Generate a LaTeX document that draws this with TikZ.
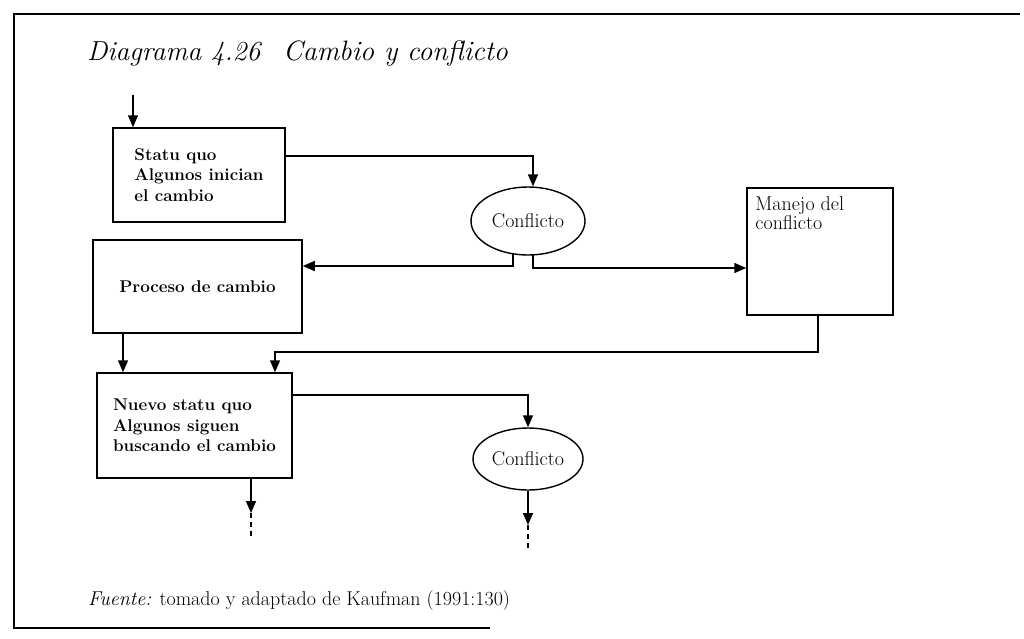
\documentclass[tikz,border=0pt]{standalone}
\usetikzlibrary{shapes.geometric,arrows.meta}
\tikzset{
  box/.style={draw,line width=1.5pt,inner sep=0pt,align=left,font=\fontsize{17}{20.5}\selectfont\bfseries},
  oval/.style={draw,ellipse,line width=1.4pt,inner sep=0pt,font=\fontsize{20}{22}\selectfont},
  arr/.style={line width=1.5pt,-{Triangle[length=12pt,width=10pt]}},
  dsh/.style={line width=1.3pt,dash pattern=on 5pt off 4pt},
  frame/.style={line width=1.7pt},
}
\begin{document}
\begin{tikzpicture}[x=1pt,y=-1pt]
\useasboundingbox (0,0) rectangle (1024,638);
% frame
\coordinate (f1) at (1020,14);
\coordinate (f2) at (14,14);
\coordinate (f3) at (14,628);
\coordinate (f4) at (490,628);
\draw[frame] (f1) -- (f2) -- (f3) -- (f4);
% title
\node[anchor=base west,inner sep=0pt] (t1) at (87,60) {\fontsize{27.5}{32}\selectfont\itshape Diagrama 4.26};
\node[anchor=base west,inner sep=0pt] (t2) at (283,60) {\fontsize{28}{32}\selectfont\itshape Cambio y conflicto};
% nodes
\node[box,minimum width=172pt,minimum height=94pt] (sq) at (199,175) {Statu quo\\Algunos inician\\el cambio};
\node[box,minimum width=209pt,minimum height=93pt] (pc) at (197.5,286.5) {Proceso de cambio};
\node[box,minimum width=195pt,minimum height=105pt] (nv) at (194.5,425.5) {Nuevo statu quo\\Algunos siguen\\buscando el cambio};
\node[draw,line width=1.5pt,minimum width=146pt,minimum height=127pt,inner sep=0pt] (mj) at (820,251.5) {};
\node[anchor=north west,inner sep=0pt,align=left,font=\fontsize{20}{19}\selectfont] (mjt) at ([xshift=9pt,yshift=-9pt]mj.north west) {Manejo del\\conflicto};
\node[oval,minimum width=114pt,minimum height=68pt] (c1) at (528,221) {Conflicto};
\node[oval,minimum width=110pt,minimum height=62pt] (c2) at (528,459) {Conflicto};
% connectors
\coordinate (in0) at (133,95);
\draw[arr] (in0) -- (in0 |- sq.north);
\draw[arr] ([yshift=19pt]sq.east) -| ([xshift=5pt]c1.north);
\draw[arr] ([xshift=-15pt,yshift=1.5pt]c1.south) |- ([yshift=20.5pt]pc.east);
\draw[arr] ([xshift=5pt,yshift=0.5pt]c1.south) |- ([yshift=-16.5pt]mj.west);
\draw[arr] ([xshift=-2pt]mj.south) -- ++(0,36) -| ([xshift=80.5pt]nv.north);
\draw[arr] ([xshift=-74.5pt]pc.south) -- ([xshift=-71.5pt]nv.north);
\draw[arr] ([yshift=30.5pt]nv.east) -| (c2.north);
\coordinate (d1) at (251,513);
\coordinate (d1e) at (251,537);
\draw[arr] (nv.south -| d1) -- (d1);
\draw[dsh] (d1) -- (d1e);
\coordinate (d2) at (528,525);
\coordinate (d2e) at (528,548);
\draw[arr] (c2.south) -- (d2);
\draw[dsh] (d2) -- (d2e);
% source
\node[anchor=base west,inner sep=0pt] (src) at (88,605) {\fontsize{20}{22}\selectfont\textit{Fuente:} tomado y adaptado de Kaufman (1991:130)};
\end{tikzpicture}
\end{document}
